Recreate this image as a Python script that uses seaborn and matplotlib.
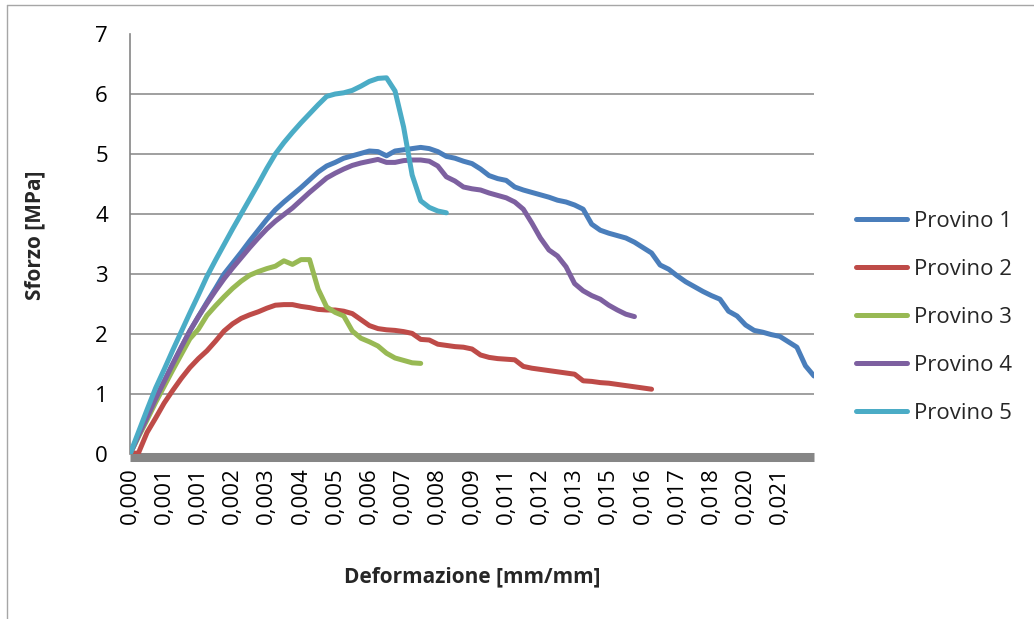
import numpy as np
import pandas as pd
import matplotlib
matplotlib.use("Agg")
import matplotlib.pyplot as plt
import seaborn as sns
from matplotlib.lines import Line2D

# Strain labels shown on the category axis (one label every four samples)
strain_labels = ["0,000", "0,001", "0,001", "0,002", "0,003", "0,004", "0,005",
                 "0,006", "0,007", "0,008", "0,009", "0,011", "0,012", "0,013",
                 "0,015", "0,016", "0,017", "0,018", "0,020", "0,021"]
SAMPLES_PER_LABEL = 4

# Stress [MPa] for each specimen, sampled at equal category steps
provino_1 = [0.0, 0.31, 0.61, 0.92, 1.21, 1.50, 1.78, 2.05, 2.29, 2.53,
             2.76, 3.00, 3.18, 3.36, 3.55, 3.73, 3.91, 4.07, 4.20, 4.32,
             4.44, 4.57, 4.70, 4.80, 4.86, 4.93, 4.97, 5.01, 5.05, 5.04,
             4.97, 5.05, 5.07, 5.09, 5.11, 5.09, 5.04, 4.96, 4.93, 4.88,
             4.84, 4.75, 4.64, 4.59, 4.56, 4.45, 4.40, 4.36, 4.32, 4.28,
             4.23, 4.20, 4.15, 4.08, 3.83, 3.73, 3.68, 3.64, 3.60, 3.53,
             3.44, 3.35, 3.15, 3.08, 2.97, 2.87, 2.79, 2.71, 2.64, 2.58,
             2.38, 2.30, 2.15, 2.06, 2.03, 1.99, 1.96, 1.87, 1.78, 1.47,
             1.30]
provino_2 = [0.0, 0.02, 0.36, 0.60, 0.85, 1.06, 1.26, 1.44, 1.59, 1.72,
             1.88, 2.05, 2.17, 2.26, 2.32, 2.37, 2.43, 2.48, 2.49, 2.49,
             2.46, 2.44, 2.41, 2.40, 2.40, 2.38, 2.34, 2.24, 2.14, 2.09,
             2.07, 2.06, 2.04, 2.01, 1.91, 1.90, 1.83, 1.81, 1.79, 1.78,
             1.75, 1.65, 1.61, 1.59, 1.58, 1.57, 1.46, 1.43, 1.41, 1.39,
             1.37, 1.35, 1.33, 1.22, 1.21, 1.19, 1.18, 1.16, 1.14, 1.12,
             1.10, 1.08]
provino_3 = [0.0, 0.29, 0.57, 0.86, 1.13, 1.40, 1.66, 1.92, 2.08, 2.31,
             2.47, 2.62, 2.76, 2.88, 2.98, 3.04, 3.09, 3.13, 3.22, 3.16,
             3.24, 3.24, 2.75, 2.45, 2.36, 2.30, 2.05, 1.93, 1.87, 1.80,
             1.68, 1.60, 1.56, 1.52, 1.51]
provino_4 = [0.0, 0.31, 0.61, 0.92, 1.21, 1.50, 1.78, 2.05, 2.29, 2.51,
             2.72, 2.92, 3.10, 3.27, 3.44, 3.60, 3.75, 3.88, 3.99, 4.10,
             4.23, 4.36, 4.48, 4.60, 4.68, 4.75, 4.81, 4.85, 4.88, 4.91,
             4.86, 4.86, 4.89, 4.90, 4.90, 4.88, 4.80, 4.62, 4.55, 4.45,
             4.42, 4.40, 4.35, 4.31, 4.27, 4.20, 4.08, 3.85, 3.60, 3.40,
             3.30, 3.12, 2.84, 2.72, 2.64, 2.58, 2.48, 2.40, 2.33, 2.29]
provino_5 = [0.0, 0.37, 0.74, 1.10, 1.41, 1.73, 2.04, 2.35, 2.65, 2.96,
             3.23, 3.49, 3.75, 4.00, 4.25, 4.50, 4.76, 5.00, 5.19, 5.36,
             5.52, 5.67, 5.82, 5.96, 6.00, 6.02, 6.06, 6.13, 6.21, 6.26,
             6.27, 6.05, 5.45, 4.65, 4.22, 4.11, 4.05, 4.02]

series_names = ["Provino 1", "Provino 2", "Provino 3", "Provino 4", "Provino 5"]
series_values = [provino_1, provino_2, provino_3, provino_4, provino_5]
palette = ["#4A7EBB", "#BE4B48", "#98B954", "#7D60A0", "#4BACC6"]

frames = []
for name, vals in zip(series_names, series_values):
    pos = np.arange(len(vals)) / SAMPLES_PER_LABEL
    frames.append(pd.DataFrame({"pos": pos, "stress": vals, "series": name}))
df = pd.concat(frames, ignore_index=True)

sns.set_theme(style="white")
plt.rcParams["font.family"] = ["Open Sans", "DejaVu Sans"]

W, H = 1034, 619
fig = plt.figure(figsize=(W / 100, H / 100), dpi=100)
ax = fig.add_axes([130 / W, 1 - 454 / H, 684 / W, 420 / H])

sns.lineplot(data=df, x="pos", y="stress", hue="series", palette=palette,
             linewidth=3.6, estimator=None, sort=False, ax=ax, zorder=3)
for ln in ax.lines:
    ln.set_solid_capstyle("round")
    ln.set_solid_joinstyle("round")

axis_gray = "#868686"
ax.set_xlim(0, len(strain_labels))
ax.set_ylim(0, 7)
ax.set_yticks(range(8))
ax.set_xticks(range(len(strain_labels)))
ax.set_xticklabels(strain_labels)

ax.yaxis.grid(True, color="#8F8F8F", linewidth=1.2)
gl = ax.get_ygridlines()
gl[0].set_visible(False)
gl[-1].set_visible(False)
ax.set_axisbelow(True)

for side in ("top", "right"):
    ax.spines[side].set_visible(False)
ax.spines["left"].set_color(axis_gray)
ax.spines["left"].set_linewidth(1.2)
ax.spines["bottom"].set_color(axis_gray)
ax.spines["bottom"].set_linewidth(6.5)
ax.spines["bottom"].set_position(("outward", 1.8))
ax.spines["bottom"].set_capstyle("butt")

ax.tick_params(axis="y", direction="out", length=5, width=1.0, color=axis_gray,
               labelsize=16, pad=11, labelcolor="black")
ax.tick_params(axis="x", length=0, labelsize=16, pad=8, labelcolor="black",
               labelrotation=90)
for t in ax.get_xticklabels():
    t.set_ha("center")
    t.set_va("top")
ax.set_xlabel("")
ax.set_ylabel("")

fig.text(35 / W, 1 - 235 / H, "Sforzo [MPa]", rotation=90, ha="center",
         va="center", fontsize=15, fontweight="bold")
fig.text(472 / W, 1 - 577 / H, "Deformazione [mm/mm]", ha="center",
         va="center", fontsize=15, fontweight="bold")

handles, labels = ax.get_legend_handles_labels()
leg = ax.legend(handles, labels, loc="center left",
                bbox_to_anchor=(856 / W, 1 - 317.5 / H),
                bbox_transform=fig.transFigure, frameon=False, fontsize=16,
                handlelength=2.3, handletextpad=0.3, labelspacing=1.21,
                borderpad=0, borderaxespad=0)
for h in leg.get_lines():
    h.set_linewidth(3.6)
    h.set_solid_capstyle("round")

# thin outer frame of the chart area
fig.add_artist(Line2D([7 / W, 7 / W], [0, 1 - 5 / H], transform=fig.transFigure,
                      color="#A6A6A6", linewidth=1.0))
fig.add_artist(Line2D([7 / W, 1], [1 - 5 / H, 1 - 5 / H], transform=fig.transFigure,
                      color="#A6A6A6", linewidth=1.0))

fig.savefig("out.png", dpi=100)
